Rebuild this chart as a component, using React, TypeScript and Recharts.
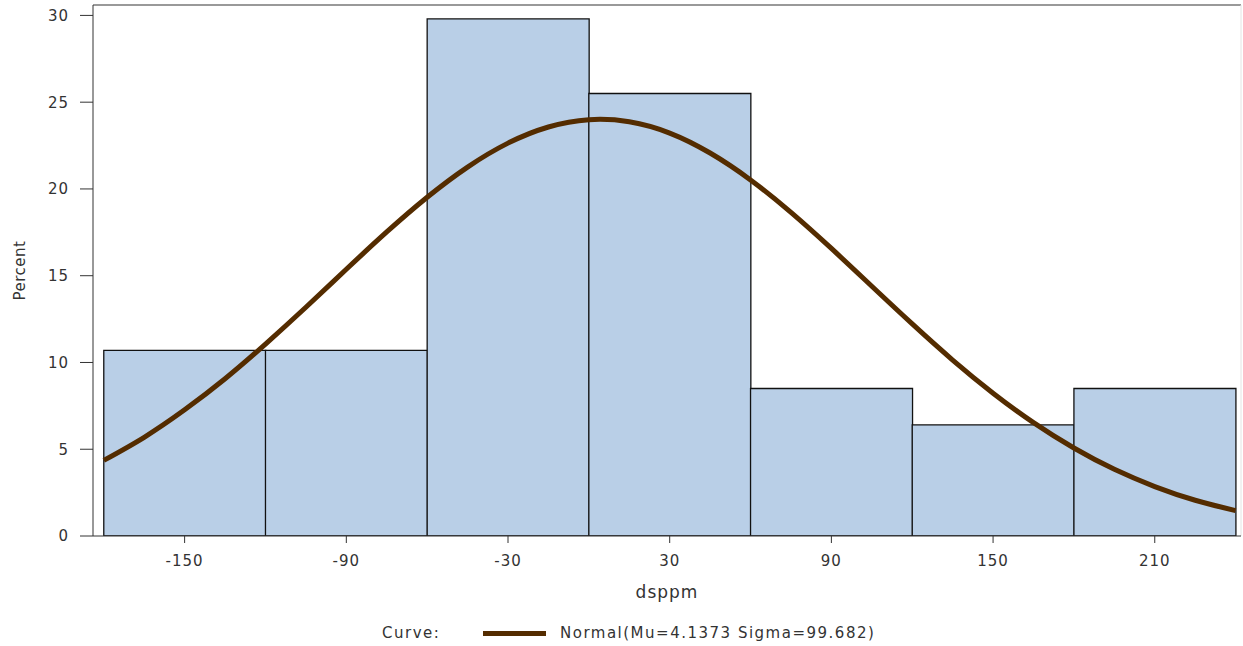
import React from 'react';
import {
  ComposedChart,
  Bar,
  Line,
  XAxis,
  YAxis,
  ReferenceLine,
} from 'recharts';

// histogram bins (midpoints, width 60)
const binMids = [-150, -90, -30, 30, 90, 150, 210];
const binPercents = [10.7, 10.7, 29.8, 25.5, 8.5, 6.4, 8.5];

// fitted normal curve
const curveX = [
  -180, -165, -150, -135, -120, -105, -90, -75, -60, -45, -30, -15, 0, 15, 30,
  45, 60, 75, 90, 105, 120, 135, 150, 165, 180, 195, 210, 225, 240,
];
const curveY = [
  4.36, 5.69, 7.27, 9.06, 11.06, 13.18, 15.37, 17.52, 19.52, 21.26, 22.64, 23.57,
  23.99, 23.87, 23.22, 22.07, 20.52, 18.65, 16.57, 14.39, 12.22, 10.14, 8.23,
  6.53, 5.07, 3.84, 2.85, 2.06, 1.46,
];

const xTicks = [-150, -90, -30, 30, 90, 150, 210];
const yTicks = [0, 5, 10, 15, 20, 25, 30];

const legendLabel = 'Normal(Mu=4.1373 Sigma=99.682)';

const barData = binMids.map((x, i) => ({ x, pct: binPercents[i] }));
const curveData = curveX.map((x, i) => ({ x, normal: curveY[i] }));

const W = 1243;
const H = 646;
const margin = { top: 5, right: 2, bottom: 0, left: 0 };
const yAxisWidth = 93;
const xDomain: [number, number] = [-184, 242];

const font = '"DejaVu Sans", Verdana, sans-serif';
const textColor = '#333';
const curveColor = '#542c00';

const tickStyle = { fill: textColor, fontSize: 15, fontFamily: font, letterSpacing: 1 };

const PercentLabel = (props: any) => {
  const vb = props.viewBox || {};
  const cy = (vb.y || 0) + (vb.height || 0) / 2;
  return (
    <text
      x={20}
      y={cy}
      transform={`rotate(-90, 20, ${cy})`}
      textAnchor="middle"
      dominantBaseline="central"
      fill={textColor}
      fontSize={15}
      fontFamily={font}
      letterSpacing={0.5}
    >
      Percent
    </text>
  );
};

export default function App() {
  return (
    <div style={{ position: 'absolute', left: 0, top: 0, width: W, height: H, background: '#fff' }}>
      <ComposedChart
        width={W}
        height={H}
        data={barData}
        margin={margin}
        barCategoryGap="0%"
        barGap={0}
      >
        <XAxis
          xAxisId="bins"
          dataKey="x"
          type="number"
          domain={xDomain}
          allowDataOverflow
          hide
          height={0}
        />
        <XAxis
          xAxisId="curve"
          dataKey="x"
          type="number"
          domain={xDomain}
          allowDataOverflow
          ticks={xTicks}
          interval={0}
          height={110}
          tickSize={7}
          tickMargin={12}
          stroke="#333"
          tick={tickStyle}
          label={{
            value: 'dsppm',
            position: 'insideTop',
            offset: 50,
            fill: textColor,
            fontSize: 17,
            fontFamily: font,
            letterSpacing: 1,
          }}
        />
        <YAxis
          type="number"
          domain={[0, 30.6]}
          ticks={yTicks}
          interval={0}
          allowDataOverflow
          width={yAxisWidth}
          tickSize={13}
          tickMargin={11}
          stroke="#333"
          tick={tickStyle}
          label={<PercentLabel />}
        />
        <ReferenceLine xAxisId="curve" y={30.6} stroke="#999" strokeWidth={2} />
        <ReferenceLine xAxisId="curve" x={242} stroke="#e4e4e4" strokeWidth={1} />
        <Bar
          xAxisId="bins"
          dataKey="pct"
          fill="#b9cfe7"
          stroke="#111"
          strokeWidth={1.3}
          isAnimationActive={false}
        />
        <Line
          xAxisId="curve"
          data={curveData}
          dataKey="normal"
          type="natural"
          stroke={curveColor}
          strokeWidth={5}
          dot={false}
          isAnimationActive={false}
        />
      </ComposedChart>
      <div
        style={{
          position: 'absolute',
          left: 0,
          top: 624,
          width: W,
          height: 20,
          fontFamily: font,
          fontSize: 15,
          letterSpacing: 1.5,
          color: textColor,
          lineHeight: '18px',
        }}
      >
        <span style={{ position: 'absolute', left: 382, top: 0 }}>Curve:</span>
        <span
          style={{
            position: 'absolute',
            left: 483,
            top: 7,
            width: 63,
            height: 5,
            background: curveColor,
          }}
        />
        <span style={{ position: 'absolute', left: 560, top: 0 }}>{legendLabel}</span>
      </div>
    </div>
  );
}
